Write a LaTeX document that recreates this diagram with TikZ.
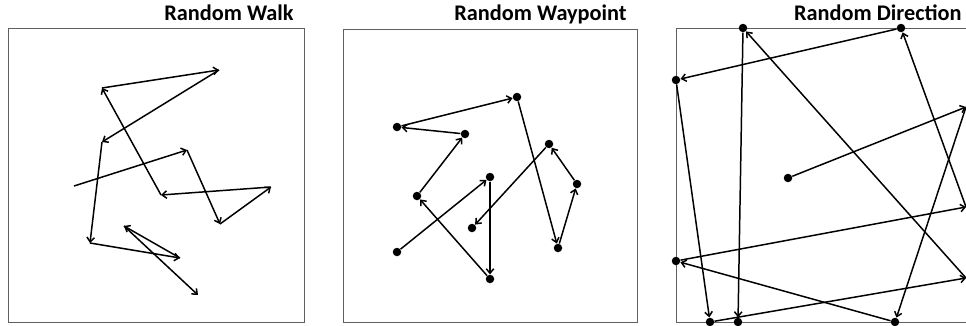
\documentclass[tikz,border=0pt]{standalone}
\usepackage{fontspec}
\setmainfont{Carlito}
\usetikzlibrary{arrows.meta}
\tikzset{
  frame/.style={draw=gray!75!black, line width=0.55pt},
  mv/.style={-{Straight Barb[length=0.9mm,width=1.5mm]}, line width=0.85pt, draw=black},
  dot/.style={circle, fill=black, inner sep=0pt, minimum size=0.17cm},
  ttl/.style={anchor=base east, inner sep=0pt, font=\bfseries\fontsize{12.7}{14}\selectfont},
}

\begin{document}
\begin{tikzpicture}[x=0.02cm, y=-0.02cm]
\useasboundingbox (0,0) rectangle (966,325);
\clip (0,0) rectangle (966,325);

\node[ttl] (t1) at (294,20) {Random Walk};
\node[ttl] (t2) at (627,20) {Random Waypoint};
\node[ttl] (t3) at (962,20) {Random Direction};

\draw[frame] (8,28) rectangle (304,322);
\draw[frame] (343,29) rectangle (637,322);
\draw[frame] (676,28) rectangle (969,322);

\coordinate (w0) at (74,186);
\coordinate (w1) at (187,150);
\coordinate (w2) at (220,224);
\coordinate (w3) at (271,187);
\coordinate (w4) at (161,195);
\coordinate (w5) at (102,88);
\coordinate (w6) at (219,70);
\coordinate (w7) at (102,142);
\coordinate (w8) at (90,243);
\coordinate (w9) at (180,258);
\coordinate (w10) at (124,226);
\coordinate (w11) at (198,295);
\draw[mv] (w0) -- (w1);
\draw[mv] (w1) -- (w2);
\draw[mv] (w2) -- (w3);
\draw[mv] (w3) -- (w4);
\draw[mv] (w4) -- (w5);
\draw[mv] (w5) -- (w6);
\draw[mv] (w6) -- (w7);
\draw[mv] (w7) -- (w8);
\draw[mv] (w8) -- (w9);
\draw[mv] (w9) -- (w10);
\draw[mv] (w10) -- (w11);

\node[dot] (p0) at (397,252) {};
\node[dot] (p1) at (490,177) {};
\node[dot] (p2) at (490,279) {};
\node[dot] (p3) at (417,196) {};
\node[dot] (p4) at (465,134) {};
\node[dot] (p5) at (397,127) {};
\node[dot] (p6) at (517,97) {};
\node[dot] (p7) at (558,248) {};
\node[dot] (p8) at (577,184) {};
\node[dot] (p9) at (549,144) {};
\node[dot] (p10) at (472,228) {};
\draw[mv] (p0) -- (p1);
\draw[mv] (p1) -- (p2);
\draw[mv] (p2) -- (p3);
\draw[mv] (p3) -- (p4);
\draw[mv] (p4) -- (p5);
\draw[mv] (p5) -- (p6);
\draw[mv] (p6) -- (p7);
\draw[mv] (p7) -- (p8);
\draw[mv] (p8) -- (p9);
\draw[mv] (p9) -- (p10);

\node[dot] (s) at (788,178) {};
\node[dot] (top1) at (743,28) {};
\node[dot] (top2) at (901,28) {};
\node[dot] (lft1) at (676,80) {};
\node[dot] (lft2) at (676,261) {};
\node[dot] (bot1) at (710,322) {};
\node[dot] (bot2) at (738,322) {};
\node[dot] (bot3) at (895,322) {};
\coordinate (rgt1) at (966,107);
\coordinate (rgt2) at (966,207);
\coordinate (rgt3) at (966,278);
\draw[mv] (s) -- (rgt1);
\draw[mv] (rgt1) -- (bot3);
\draw[mv] (bot3) -- (lft2);
\draw[mv] (lft2) -- (rgt2);
\draw[mv] (rgt2) -- (top2);
\draw[mv] (top2) -- (lft1);
\draw[mv] (lft1) -- (bot1);
\draw[mv] (bot1) -- (rgt3);
\draw[mv] (rgt3) -- (top1);
\draw[mv] (top1) -- (bot2);
\end{tikzpicture}
\end{document}
